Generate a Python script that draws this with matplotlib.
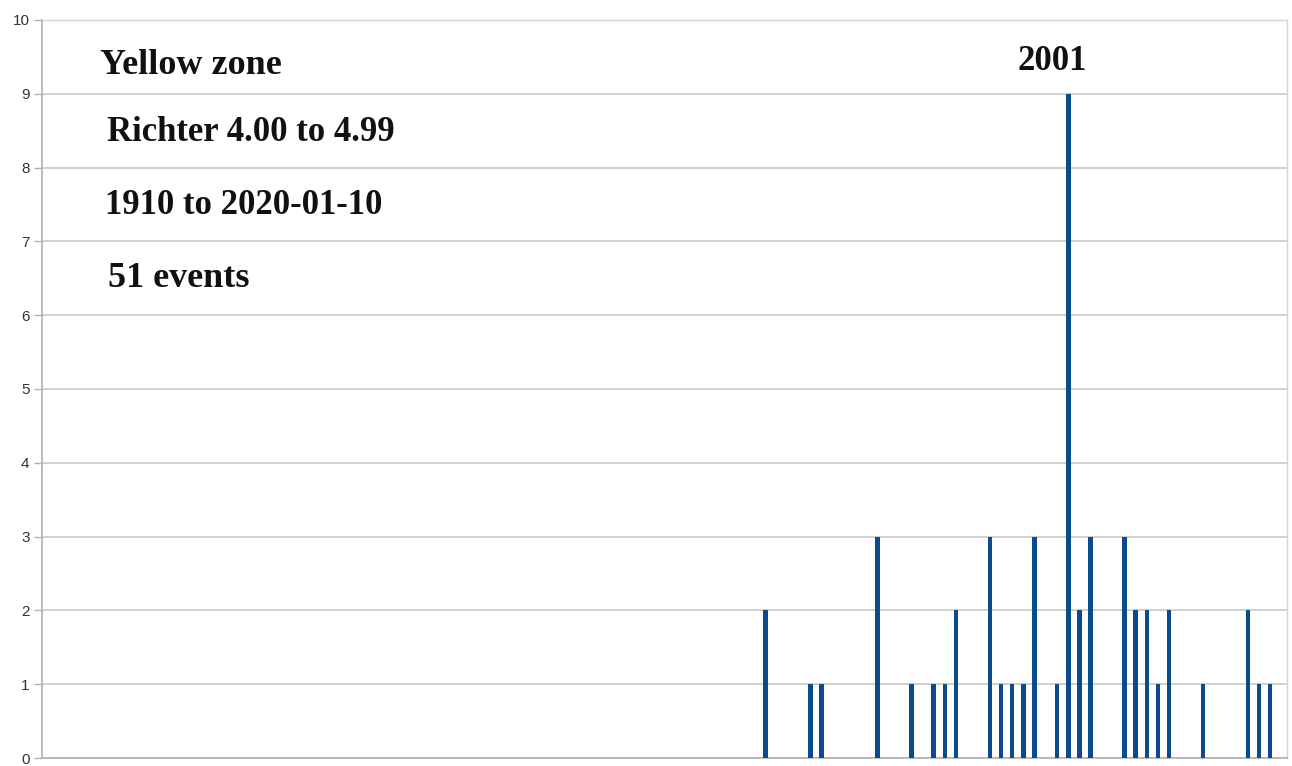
import matplotlib
matplotlib.use('Agg')
import matplotlib.pyplot as plt
import numpy as np

# yearly counts of Richter 4.00-4.99 events (only non-zero years listed)
event_years = [1974, 1978, 1979, 1984, 1987, 1989, 1990, 1991, 1994, 1995,
               1996, 1997, 1998, 2000, 2001, 2002, 2003, 2006, 2007, 2008,
               2009, 2010, 2013, 2017, 2018, 2019]
event_counts = [2, 1, 1, 3, 1, 1, 1, 2, 3, 1,
                1, 1, 3, 1, 9, 2, 3, 3, 2, 2,
                1, 2, 1, 2, 1, 1]
years = np.arange(1910, 2021)
counts = np.zeros(len(years), dtype=int)
for yr, c in zip(event_years, event_counts):
    counts[yr - 1910] = c

y_ticks = list(range(0, 11))

BAR = '#0b4a8b'
GRID = '#c8c8c8'
SERIF = ['Liberation Serif', 'DejaVu Serif']

fig = plt.figure(figsize=(12.92, 7.66), dpi=100)
ax = fig.add_axes([42 / 1292, 8 / 766, 1245 / 1292, 738 / 766])

ax.bar(years, counts, width=0.4, color=BAR, zorder=3)
ax.set_xlim(1909.5, 2020.5)
ax.set_ylim(0, 10)
ax.set_yticks(y_ticks)
ax.set_xticks([])
ax.yaxis.grid(True, color=GRID, linewidth=1.2, zorder=0)
ax.tick_params(axis='y', length=6, width=1, color='#b0b0b0',
               labelsize=11, labelcolor='#333333', pad=3)
for lbl in ax.get_yticklabels():
    lbl.set_family(['Liberation Sans', 'DejaVu Sans'])
for side in ['left', 'bottom']:
    ax.spines[side].set_color('#b0b0b0')
    ax.spines[side].set_linewidth(1.2)
for side in ['top', 'right']:
    ax.spines[side].set_color('#d4d4d4')
    ax.spines[side].set_linewidth(1.0)

labels = [
    ('Yellow zone', 0.0466, 0.939, 26),
    ('Richter 4.00 to 4.99', 0.052, 0.847, 25),
    ('1910 to 2020-01-10', 0.0506, 0.748, 25),
    ('51 events', 0.053, 0.650, 26),
]
for txt, x, y, fs in labels:
    ax.text(x, y, txt, transform=ax.transAxes, ha='left', va='center',
            fontsize=fs, fontweight='bold', family=SERIF, color='#111111')

ax.text(0.811, 0.944, '2001', transform=ax.transAxes, ha='center',
        va='center', fontsize=25, fontweight='bold', family=SERIF,
        color='#111111')

fig.savefig('out.png', dpi=100)
